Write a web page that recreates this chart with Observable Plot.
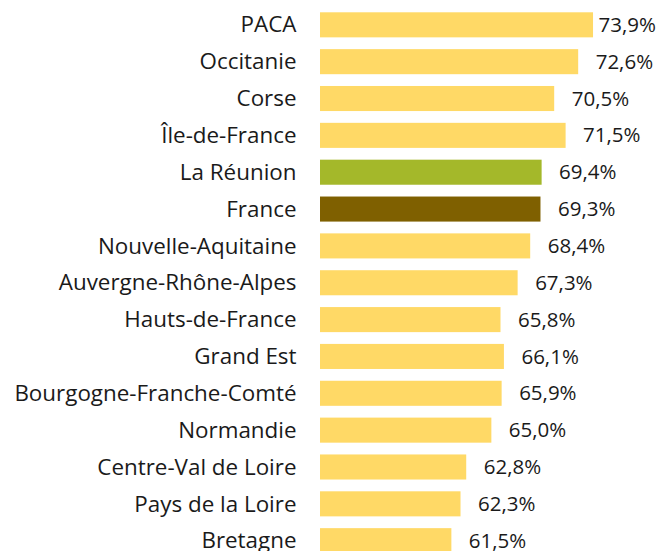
<!DOCTYPE html>
<html>
<head>
<meta charset="utf-8">
<script src="https://cdn.jsdelivr.net/npm/d3@7"></script>
<script src="https://cdn.jsdelivr.net/npm/@observablehq/plot@0.6"></script>
<style>
  html, body { margin: 0; padding: 0; overflow: hidden; background: #fff; }
  #chart svg { display: block; overflow: visible; }
</style>
</head>
<body>
<div id="chart"></div>
<script>
const regions = ["PACA", "Occitanie", "Corse", "Île-de-France", "La Réunion", "France",
  "Nouvelle-Aquitaine", "Auvergne-Rhône-Alpes", "Hauts-de-France", "Grand Est",
  "Bourgogne-Franche-Comté", "Normandie", "Centre-Val de Loire", "Pays de la Loire", "Bretagne"];
const values = [73.9, 72.6, 70.5, 71.5, 69.4, 69.3, 68.4, 67.3, 65.8, 66.1, 65.9, 65.0, 62.8, 62.3, 61.5];
const colorOf = {"La Réunion": "#A4B82A", "France": "#7F6000"};
const defaultColor = "#FFD966";

const data = regions.map((r, i) => ({region: r, value: values[i]}));
const fmt = v => v.toFixed(1).replace(".", ",") + "%";
const font = "'Open Sans', sans-serif";

const chart = Plot.plot({
  width: 657,
  height: 565,
  marginLeft: 320,
  marginRight: 0,
  marginTop: 0.5,
  marginBottom: 0,
  style: {fontFamily: font, fontSize: "22px", color: "#1a1a1a", background: "#fff"},
  x: {domain: [50, 79.5], axis: null},
  y: {domain: regions, padding: 0.32, round: false, label: null},
  marks: [
    Plot.barX(data, {x1: 50, x2: "value", y: "region", fill: d => colorOf[d.region] || defaultColor}),
    Plot.text(data.filter(d => d.region !== "PACA"), {x: "value", y: "region", text: d => fmt(d.value), textAnchor: "start", dx: 17, fontSize: 20.5, fill: "#1a1a1a"}),
    Plot.text(data.filter(d => d.region === "PACA"), {x: "value", y: "region", text: d => fmt(d.value), textAnchor: "start", dx: 5, fontSize: 20.5, fill: "#1a1a1a"}),
    Plot.axisY({tickSize: 0, tickPadding: 24, label: null, fontSize: 22.4})
  ]
});
document.getElementById("chart").appendChild(chart);
</script>
</body>
</html>
